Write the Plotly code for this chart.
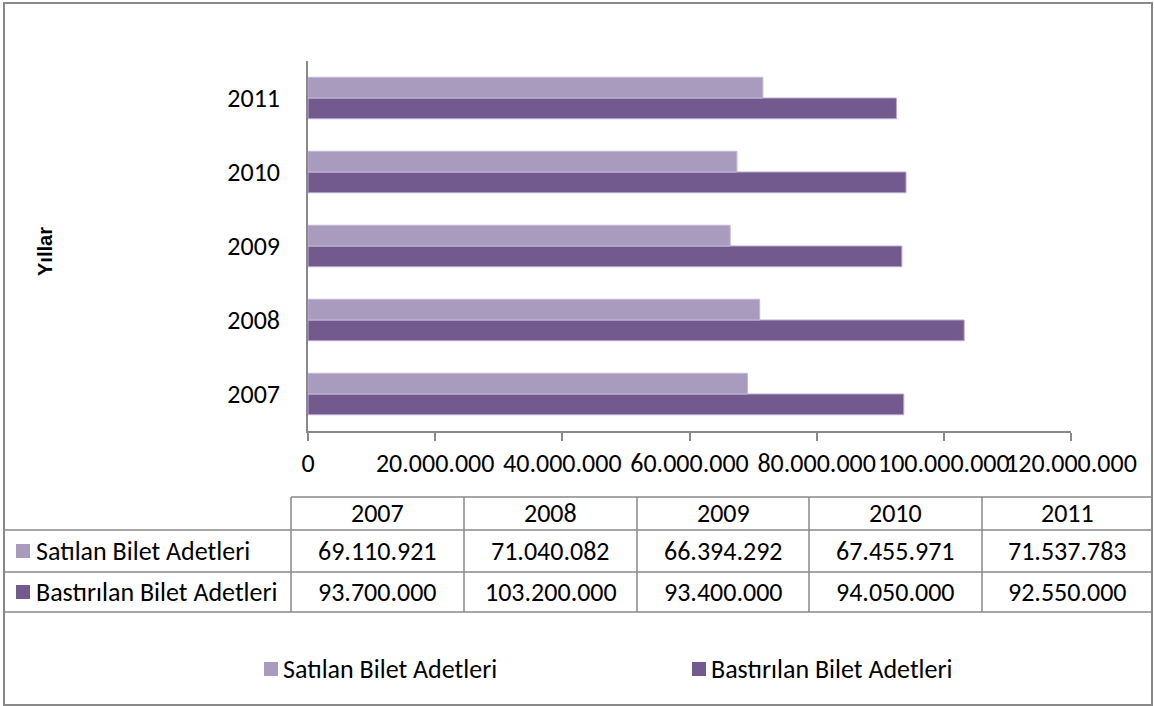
import plotly.graph_objects as go

years = ["2007", "2008", "2009", "2010", "2011"]
satilan = [69110921, 71040082, 66394292, 67455971, 71537783]
bastirilan = [93700000, 103200000, 93400000, 94050000, 92550000]
series_names = ["Satılan Bilet Adetleri", "Bastırılan Bilet Adetleri"]
x_tick_vals = [0, 20000000, 40000000, 60000000, 80000000, 100000000, 120000000]
y_title = "Yıllar"

LIGHT = "#A99BBD"
DARK = "#725A8E"
GRID = "#898989"
FONT = "Carlito, Calibri, Lato, sans-serif"
FS = 26

W, H = 1154, 706
L, R, T, B = 308, 1071, 61, 431


def xp(px):
    return (px - L) / (R - L)


def yp(py):
    return (B - py) / (B - T)


def fmt(v):
    return f"{v:,}".replace(",", ".")


fig = go.Figure()
# dark first so it sits at the bottom of each group
fig.add_trace(go.Bar(y=years, x=bastirilan, orientation="h", name=series_names[1],
                     marker=dict(color=DARK, line=dict(color="#B9A9CF", width=1)),
                     showlegend=False))
fig.add_trace(go.Bar(y=years, x=satilan, orientation="h", name=series_names[0],
                     marker=dict(color=LIGHT, line=dict(color="#C3B6D4", width=1)),
                     showlegend=False))

shapes = []
annotations = []

# outer border
shapes.append(dict(type="rect", xref="paper", yref="paper",
                   x0=xp(4), x1=xp(1152), y0=yp(3), y1=yp(705),
                   line=dict(color=GRID, width=2), layer="below"))

# data table lines
col_edges = [291, 464, 637, 809, 982, 1152]
row_lines = [(497, 291), (530, 4), (572, 4), (612, 4)]
for py, x0 in row_lines:
    shapes.append(dict(type="line", xref="paper", yref="paper",
                       x0=xp(x0), x1=xp(1152), y0=yp(py), y1=yp(py),
                       line=dict(color=GRID, width=1.5)))
for cx in col_edges[:-1]:
    shapes.append(dict(type="line", xref="paper", yref="paper",
                       x0=xp(cx), x1=xp(cx), y0=yp(497), y1=yp(612),
                       line=dict(color=GRID, width=1.5)))

row_y = [513, 551, 592]
for i, yr in enumerate(years):
    cx = (col_edges[i] + col_edges[i + 1]) / 2
    annotations.append(dict(xref="paper", yref="paper", x=xp(cx), y=yp(row_y[0]),
                            text=yr, showarrow=False, xanchor="center", yanchor="middle",
                            font=dict(family=FONT, size=FS, color="black")))
    annotations.append(dict(xref="paper", yref="paper", x=xp(cx), y=yp(row_y[1]),
                            text=fmt(satilan[i]), showarrow=False, xanchor="center",
                            yanchor="middle", font=dict(family=FONT, size=FS, color="black")))
    annotations.append(dict(xref="paper", yref="paper", x=xp(cx), y=yp(row_y[2]),
                            text=fmt(bastirilan[i]), showarrow=False, xanchor="center",
                            yanchor="middle", font=dict(family=FONT, size=FS, color="black")))

# table row labels with color keys
for name, color, py in [(series_names[0], LIGHT, row_y[1]), (series_names[1], DARK, row_y[2])]:
    shapes.append(dict(type="rect", xref="paper", yref="paper",
                       x0=xp(16), x1=xp(30), y0=yp(py - 7), y1=yp(py + 7),
                       fillcolor=color, line=dict(width=0)))
    annotations.append(dict(xref="paper", yref="paper", x=xp(34), y=yp(py),
                            text=name, showarrow=False, xanchor="left", yanchor="middle",
                            font=dict(family=FONT, size=FS, color="black")))

# bottom legend
for name, color, sx in [(series_names[0], LIGHT, 264), (series_names[1], DARK, 692)]:
    shapes.append(dict(type="rect", xref="paper", yref="paper",
                       x0=xp(sx), x1=xp(sx + 14), y0=yp(662), y1=yp(676),
                       fillcolor=color, line=dict(width=0)))
    annotations.append(dict(xref="paper", yref="paper", x=xp(sx + 17), y=yp(669),
                            text=name, showarrow=False, xanchor="left", yanchor="middle",
                            font=dict(family=FONT, size=FS, color="black")))

# y-axis title
annotations.append(dict(xref="paper", yref="paper", x=xp(45), y=yp(252), text=y_title,
                        textangle=-90, showarrow=False, xanchor="center", yanchor="middle",
                        font=dict(family="Liberation Sans, Arial, sans-serif", size=20,
                                  color="black", weight="bold")))

fig.update_layout(
    width=W, height=H,
    margin=dict(l=L, r=W - R, t=T, b=H - B, pad=0),
    paper_bgcolor="white", plot_bgcolor="white",
    barmode="group", bargap=0.44, bargroupgap=0,
    separators=",.",
    showlegend=False,
    shapes=shapes, annotations=annotations,
    font=dict(family=FONT, size=FS, color="black"),
)
fig.update_xaxes(range=[0, 120000000], tickvals=x_tick_vals, tickformat=",d",
                 tickangle=0,
                 showgrid=False, zeroline=False, showline=True, linecolor=GRID, linewidth=1.5,
                 ticks="outside", ticklen=8, tickcolor=GRID, tickwidth=1.5,
                 ticklabelstandoff=0, tickfont=dict(family=FONT, size=FS, color="black"))
fig.update_yaxes(categoryorder="array", categoryarray=years,
                 showgrid=False, zeroline=False, showline=True, linecolor=GRID, linewidth=1.5,
                 ticks="", ticklabelstandoff=21, tickfont=dict(family=FONT, size=FS, color="black"))

fig.write_html("out.html", config={"displayModeBar": False},
               post_script="document.body.style.margin='0';document.body.style.padding='0';")
